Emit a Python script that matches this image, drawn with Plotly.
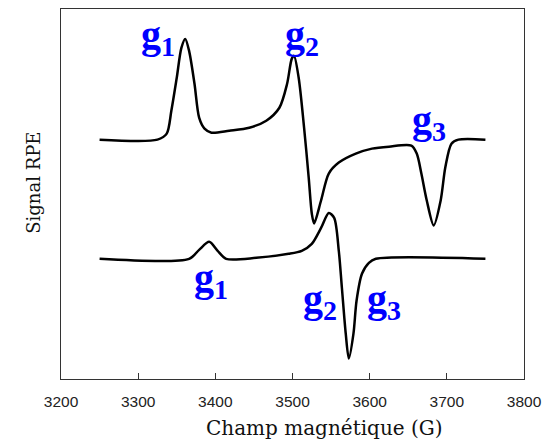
import plotly.graph_objects as go

# Upper spectrum (field in G, signal relative to its baseline, arbitrary units)
field_a = [3250, 3325, 3337, 3343, 3350, 3356, 3361, 3366, 3373, 3379, 3386, 3395,
           3418, 3444, 3466, 3483, 3493, 3499, 3502, 3508, 3515, 3521, 3525, 3528,
           3537, 3547, 3560, 3582, 3603, 3625, 3654, 3661, 3667, 3674, 3683, 3692,
           3698, 3706, 3715, 3750]
signal_a = [0, 0, 6, 29, 62, 92, 101, 89, 56, 22, 11, 7,
            9, 12, 19, 32, 56, 81, 84, 62, 12, -38, -74, -84,
            -61, -34, -23, -14, -9, -7, -6, -14, -34, -61, -86, -61,
            -28, -4, 0, 0]

# Lower spectrum
field_b = [3250, 3366, 3379, 3392, 3403, 3414, 3453, 3495, 3512, 3525, 3537, 3547,
           3554, 3560, 3564, 3569, 3573, 3579, 3583, 3590, 3599, 3608, 3750]
signal_b = [0, 0, 9, 17, 8, 0, 1, 5, 8, 15, 31, 46,
            41, 8, -29, -75, -100, -75, -42, -15, -4, 0, 0]

offset_a = 240
offset_b = 120.5

x_ticks = [3200, 3300, 3400, 3500, 3600, 3700, 3800]

# g labels: (text, field, signal level)
labels = [
    ("g<sub>1</sub>", 3326, 343),
    ("g<sub>2</sub>", 3512, 343),
    ("g<sub>3</sub>", 3677, 258),
    ("g<sub>1</sub>", 3395, 99),
    ("g<sub>2</sub>", 3535, 78),
    ("g<sub>3</sub>", 3619, 78),
]

fig = go.Figure()
fig.add_trace(go.Scatter(x=field_a, y=[v + offset_a for v in signal_a], mode="lines",
                         line=dict(color="black", width=2.5, shape="spline", smoothing=0.8),
                         showlegend=False, hoverinfo="skip"))
fig.add_trace(go.Scatter(x=field_b, y=[v + offset_b for v in signal_b], mode="lines",
                         line=dict(color="black", width=2.5, shape="spline", smoothing=0.8),
                         showlegend=False, hoverinfo="skip"))

for text, gx, gy in labels:
    fig.add_annotation(x=gx, y=gy, xref="x", yref="y", text=text, showarrow=False,
                       xanchor="center", yanchor="middle",
                       font=dict(family="Liberation Serif", size=40, color="#0000ff", weight="bold"))

fig.add_annotation(xref="paper", yref="paper", x=0.57, y=-0.132, text="Champ magnétique (G)",
                   showarrow=False, xanchor="center", yanchor="middle",
                   font=dict(family="DejaVu Serif", size=20, color="#111"))
fig.add_annotation(xref="paper", yref="paper", x=-0.06, y=0.531, text="Signal RPE", textangle=-90,
                   showarrow=False, xanchor="center", yanchor="middle",
                   font=dict(family="DejaVu Serif", size=18, color="#111"))

fig.update_layout(
    width=550, height=444,
    margin=dict(l=61, r=24, t=8, b=65),
    paper_bgcolor="white", plot_bgcolor="white",
    xaxis=dict(range=[3200, 3800], tickvals=x_ticks, ticktext=[str(t) for t in x_ticks],
               ticks="inside", ticklen=6, tickcolor="#333", tickwidth=1.2,
               showline=True, linecolor="#333", linewidth=1.3, mirror=True,
               showgrid=False, zeroline=False, ticklabelstandoff=8,
               tickfont=dict(family="Liberation Sans", size=15.5, color="#222")),
    yaxis=dict(range=[0, 371], showticklabels=False, ticks="",
               showline=True, linecolor="#333", linewidth=1.3, mirror=True,
               showgrid=False, zeroline=False),
)

fig.write_html("out.html", config={"displayModeBar": False},
               post_script="document.body.style.margin='0';")
